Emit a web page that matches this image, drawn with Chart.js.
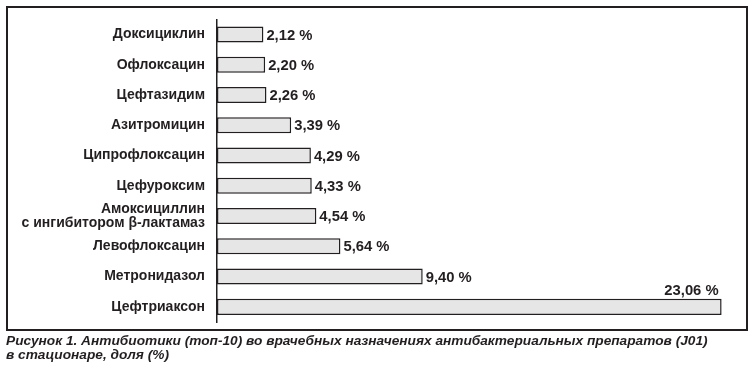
<!DOCTYPE html>
<html>
<head>
<meta charset="utf-8">
<script src="https://cdn.jsdelivr.net/npm/chart.js@4/dist/chart.umd.min.js"></script>
<style>
  body { margin: 0; background: #fff; }
  #wrap { position: relative; width: 752px; height: 370px; }
  #caption {
    position: absolute; left: 6px; top: 334px;
    font: italic bold 13.7px "Liberation Sans", Arial, sans-serif;
    line-height: 14px; color: #231f20;
  }
</style>
</head>
<body>
<div id="wrap">
  <canvas id="chart" width="752" height="370"></canvas>
  <div id="caption">Рисунок 1. Антибиотики (топ-10) во врачебных назначениях антибактериальных препаратов (J01)<br>в стационаре, доля (%)</div>
</div>
<script>
// data (top to bottom)
const drugs = [
    "Доксициклин",
    "Офлоксацин",
    "Цефтазидим",
    "Азитромицин",
    "Ципрофлоксацин",
    "Цефуроксим",
    ["Амоксициллин", "с ингибитором β-лактамаз"],
    "Левофлоксацин",
    "Метронидазол",
    "Цефтриаксон"
];
const shares = [2.12, 2.20, 2.26, 3.39, 4.29, 4.33, 4.54, 5.64, 9.40, 23.06];

const ink = "#231f20";

// outer frame around the plot
const framePlugin = {
    id: "frame",
    afterDraw(chart) {
        const ctx = chart.ctx;
        ctx.save();
        ctx.strokeStyle = ink;
        ctx.lineWidth = 2;
        ctx.strokeRect(7, 7, 740, 323);
        ctx.restore();
    }
};

// "2,12 %" labels next to the bars
const valueLabels = {
    id: "valueLabels",
    afterDatasetsDraw(chart) {
        const ctx = chart.ctx;
        const meta = chart.getDatasetMeta(0);
        const maxVal = Math.max(...shares);
        ctx.save();
        ctx.fillStyle = ink;
        ctx.font = "bold 14.8px 'Liberation Sans', Arial, sans-serif";
        meta.data.forEach((bar, i) => {
            const txt = shares[i].toFixed(2).replace(".", ",") + " %";
            if (shares[i] === maxVal) {
                ctx.textAlign = "right";
                ctx.textBaseline = "alphabetic";
                ctx.fillText(txt, bar.x - 3, bar.y - bar.height / 2 - 4);
            } else {
                ctx.textAlign = "left";
                ctx.textBaseline = "middle";
                ctx.fillText(txt, bar.x + 3, bar.y + 1);
            }
        });
        ctx.restore();
    }
};

new Chart(document.getElementById("chart"), {
    type: "bar",
    data: {
        labels: drugs,
        datasets: [{
            data: shares,
            backgroundColor: "#e6e6e6",
            borderColor: ink,
            borderWidth: 1.5,
            borderSkipped: false,
            barPercentage: 0.53,
            categoryPercentage: 1
        }]
    },
    options: {
        indexAxis: "y",
        responsive: false,
        animation: false,
        events: [],
        layout: { padding: { left: 6, right: 12, top: 19, bottom: 48 } },
        plugins: { legend: { display: false }, tooltip: { enabled: false } },
        scales: {
            x: { display: false, min: 0, max: 23.9 },
            y: {
                afterFit(s) { s.width = 211; },
                grid: { display: false, drawTicks: false },
                border: { display: true, color: ink, width: 1.5 },
                ticks: {
                    autoSkip: false,
                    padding: 12,
                    color: ink,
                    font: { family: "'Liberation Sans', Arial, sans-serif", size: 14, weight: "bold", lineHeight: 1.05 }
                }
            }
        }
    },
    plugins: [framePlugin, valueLabels]
});
</script>
</body>
</html>
